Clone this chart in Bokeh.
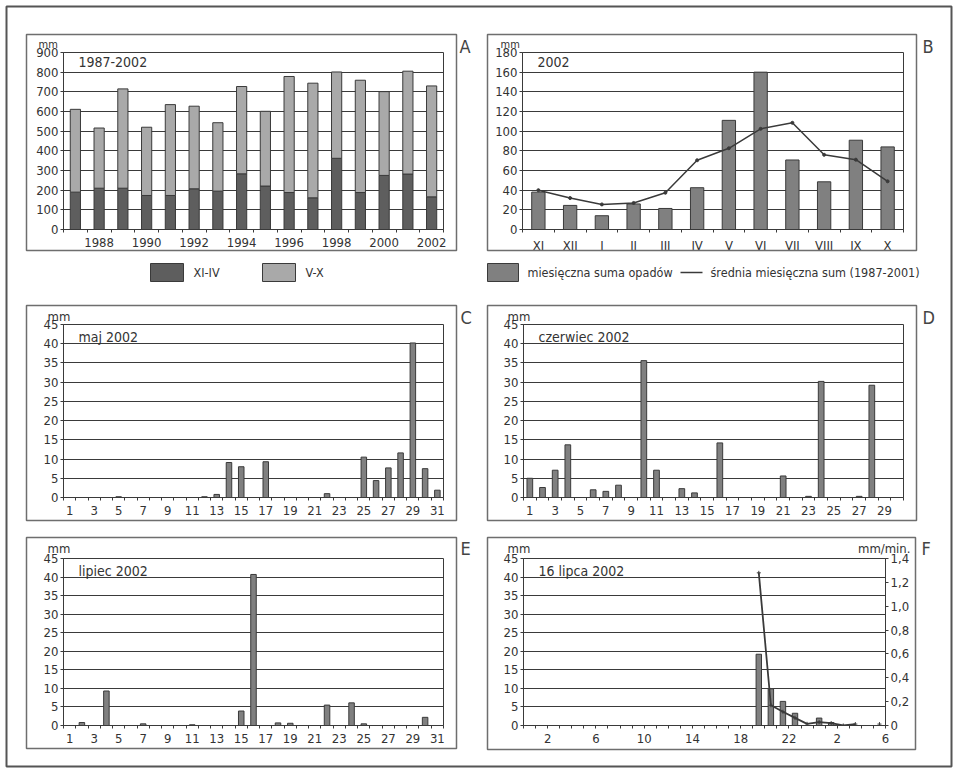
import numpy as np
from bokeh.plotting import figure
from bokeh.models import (Range1d, LinearAxis, FixedTicker, CustomJSTickFormatter,
                          Label, Spacer, ColumnDataSource, GridBox)
from bokeh.layouts import row, column
from bokeh.core.properties import value
from bokeh.embed import file_html
from bokeh.resources import INLINE

# ---------------- data ----------------
# A: seasonal precipitation totals 1987-2002 (mm)
years = list(range(1987, 2003))
winter_xi_iv = [190, 210, 210, 173, 173, 207, 195, 283, 221, 188, 161, 362, 188, 275, 282, 166]
summer_v_x = [421, 306, 505, 347, 462, 420, 348, 444, 380, 590, 583, 439, 571, 426, 523, 564]

# B: monthly sums for hydrological year 2002 and the 1987-2001 monthly mean (mm)
months = ["XI", "XII", "I", "II", "III", "IV", "V", "VI", "VII", "VIII", "IX", "X"]
monthly_2002 = [38, 24.5, 14, 26, 21.4, 42.5, 111, 160, 70.7, 48.5, 90.8, 84]
monthly_mean = [40, 32, 25.5, 27, 37.4, 70.4, 82.6, 102.4, 108.5, 76, 71, 49]

# C: daily precipitation, May 2002 (mm)
may_days = list(range(1, 32))
may_mm = [0, 0, 0, 0, 0.2, 0, 0, 0, 0, 0, 0, 0.2, 0.8, 9.1, 8.0, 0, 9.3, 0, 0, 0,
          0, 1.0, 0, 0, 10.5, 4.4, 7.7, 11.6, 40.2, 7.5, 1.9]

# D: daily precipitation, June 2002 (mm)
june_days = list(range(1, 31))
june_mm = [5.0, 2.6, 7.1, 13.7, 0, 2.0, 1.6, 3.2, 0, 35.6, 7.1, 0, 2.3, 1.2, 0, 14.2,
           0, 0, 0, 0, 5.6, 0, 0.3, 30.2, 0, 0, 0.3, 29.2, 0, 0]

# E: daily precipitation, July 2002 (mm)
july_days = list(range(1, 32))
july_mm = [0, 0.8, 0, 9.3, 0, 0, 0.45, 0, 0, 0, 0.2, 0, 0, 0, 3.9, 40.7, 0, 0.7, 0.6, 0,
           0, 5.5, 0, 6.1, 0.45, 0, 0, 0, 0, 2.2, 0]

# F: hourly totals (mm) and intensity (mm/min) on 16 July 2002, hours counted from 0:00
storm_hours = [19, 20, 21, 22, 23, 24, 25]
storm_mm = [19.2, 9.9, 6.5, 3.3, 0.0, 2.0, 0.8]
rate_hours = [19.5, 20.5, 21.5, 22.5, 23.5, 24.5, 25.5, 26.5, 27.5, 28.5, 29.5]
rate_mm_min = [1.28, 0.17, 0.115, 0.064, 0.014, 0.028, 0.02, 0.0, 0.012, np.nan, 0.012]

# legend texts
legend_a = ["XI-IV", "V-X"]
legend_b = ["miesięczna suma opadów", "średnia miesięczna sum (1987-2001)"]

# ---------------- styling ----------------
FONT = "DejaVu Sans Condensed, Liberation Sans Narrow, Roboto, sans-serif"
INK = "#3a3a3a"
TEXT = "#333333"
BOX = "#6e6e6e"
DARK = "#5e5e5e"
LIGHT = "#a9a9a9"
MID = "#808080"
TICK_SIZE = "13px"


def make_panel(fw, fh, right_border, x0, x1, y_max, y_step, x_ticks, x_minor):
    p = figure(frame_width=fw, frame_height=fh, output_backend="svg", toolbar_location=None,
               x_range=Range1d(x0, x1), y_range=Range1d(0, y_max),
               min_border_left=40, min_border_right=right_border,
               min_border_top=10, min_border_bottom=30,
               background_fill_color="white", border_fill_color=None,
               outline_line_color=INK, outline_line_width=1)
    p.xgrid.visible = False
    p.ygrid.grid_line_color = INK
    p.ygrid.grid_line_width = 1
    p.yaxis.ticker = FixedTicker(ticks=list(np.arange(0, y_max + y_step / 2, y_step)))
    p.yaxis.major_tick_out = 3
    p.yaxis.major_tick_in = 0
    p.yaxis.minor_tick_line_color = None
    p.yaxis.major_tick_line_color = INK
    p.yaxis.major_label_standoff = 2
    p.xaxis.ticker = FixedTicker(ticks=x_ticks, minor_ticks=x_minor)
    p.xaxis.major_tick_line_color = None
    p.xaxis.major_tick_out = 0
    p.xaxis.major_tick_in = 0
    p.xaxis.minor_tick_out = 3
    p.xaxis.minor_tick_in = 0
    p.xaxis.minor_tick_line_color = INK
    p.xaxis.major_label_standoff = 5
    for ax in p.axis:
        ax.axis_line_color = INK
        ax.major_label_text_font = FONT
        ax.major_label_text_font_size = TICK_SIZE
        ax.major_label_text_color = TEXT
    return p


def add_title(p, title):
    p.add_layout(Label(x=p.x_range.start, y=p.y_range.end, x_offset=15, y_offset=-4,
                       text=title, text_baseline="top", text_align="left",
                       text_font=FONT, text_font_size="14px", text_color=TEXT))


def day_panel(fw, fh, days, values, title):
    n = len(days)
    p = make_panel(fw, fh, 15, 0.5, n + 0.5, 45, 5,
                   [d for d in days if d % 2 == 1], [d + 0.5 for d in range(n + 1)])
    p.vbar(x=days, top=values, width=0.45, fill_color=MID, line_color=INK, line_width=1)
    add_title(p, title)
    return p


# ---------------- A ----------------
pa = make_panel(380, 177, 15, 1986.5, 2002.5, 900, 100,
                [y for y in years if y % 2 == 0], [y - 0.5 for y in years] + [years[-1] + 0.5])
src_a = ColumnDataSource(dict(year=years, xi_iv=winter_xi_iv, v_x=summer_v_x))
pa.vbar_stack(["xi_iv", "v_x"], x="year", source=src_a, width=0.43,
              fill_color=[DARK, LIGHT], line_color=INK, line_width=1)
add_title(pa, "1987-2002")

# ---------------- B ----------------
idx = list(range(len(months)))
pb = make_panel(381, 177, 15, -0.5, len(months) - 0.5, 180, 20,
                idx, [i - 0.5 for i in idx] + [len(months) - 0.5])
pb.xaxis.major_label_overrides = {i: m for i, m in enumerate(months)}
pb.vbar(x=idx, top=monthly_2002, width=0.42, fill_color=MID, line_color=INK, line_width=1)
pb.line(idx, monthly_mean, line_color=INK, line_width=1.5)
pb.scatter(idx, monthly_mean, marker="circle", size=3, color=INK)
add_title(pb, "2002")

# ---------------- C, D, E ----------------
pc = day_panel(380, 173, may_days, may_mm, "maj 2002")
pd_ = day_panel(380, 173, june_days, june_mm, "czerwiec 2002")
pe = day_panel(380, 167, july_days, july_mm, "lipiec 2002")

# ---------------- F ----------------
pf = make_panel(362, 167, 40, 0, 30, 45, 5, list(range(2, 31, 4)), list(range(0, 31)))
pf.xaxis.formatter = CustomJSTickFormatter(code="return String(tick % 24);")
pf.vbar(x=[h + 0.5 for h in storm_hours], top=storm_mm, width=0.45,
        fill_color=MID, line_color=INK, line_width=1)
pf.extra_y_ranges = {"rate": Range1d(0, 1.4)}
rax = LinearAxis(y_range_name="rate",
                 ticker=FixedTicker(ticks=[0, 0.2, 0.4, 0.6, 0.8, 1.0, 1.2, 1.4]),
                 formatter=CustomJSTickFormatter(
                     code="return tick == 0 ? '0' : tick.toFixed(1).replace('.', ',');"))
rax.axis_line_color = INK
rax.major_tick_line_color = INK
rax.major_tick_out = 3
rax.major_tick_in = 0
rax.minor_tick_line_color = None
rax.major_label_standoff = 2
rax.major_label_text_font = FONT
rax.major_label_text_font_size = TICK_SIZE
rax.major_label_text_color = TEXT
pf.add_layout(rax, "right")
rate_src = ColumnDataSource(dict(h=rate_hours, r=np.array(rate_mm_min, dtype=float)))
pf.line("h", "r", source=rate_src, y_range_name="rate", line_color=INK, line_width=1.8)
pf.scatter("h", "r", source=rate_src, y_range_name="rate", marker="cross", size=4,
           color=INK)
add_title(pf, "16 lipca 2002")

# ---------------- page overlay: frames, panel letters, units, legends ----------------
ov = figure(width=956, height=774, output_backend="svg", toolbar_location=None,
            x_range=Range1d(0, 956), y_range=Range1d(774, 0),
            x_axis_type=None, y_axis_type=None, min_border=0,
            outline_line_color=None, border_fill_color=None, background_fill_color=None)
# outer frame and panel boxes (page pixels)
ov.quad(left=[6], right=[951], top=[6], bottom=[766], fill_color=None,
        line_color="#555555", line_width=2)
ov.quad(left=[26, 487, 26, 487, 26, 487], right=[456, 916, 456, 916, 456, 915],
        top=[34, 34, 305, 305, 537, 537], bottom=[250, 250, 520, 520, 748, 749],
        fill_color=None, line_color=BOX, line_width=1.5)
ov.text(x=[459, 922, 460, 922, 460, 921], y=[35, 35, 306, 306, 537, 537],
        text=["A", "B", "C", "D", "E", "F"], text_baseline="top", text_align="left",
        text_font=value(FONT), text_font_size="18px", text_color="#444444")
ov.text(x=[38, 500], y=[44, 44], text=["mm", "mm"], text_baseline="alphabetic",
        text_font=value(FONT), text_font_size="11px", text_color=TEXT)
ov.text(x=[47, 507, 47, 507], y=[316, 316, 548, 548], text=["mm"] * 4,
        text_baseline="alphabetic", text_font=value(FONT), text_font_size="13px",
        text_color=TEXT)
ov.text(x=[910], y=[548], text=["mm/min."], text_baseline="alphabetic", text_align="right",
        text_font=value(FONT), text_font_size="13px", text_color=TEXT)
# legend keys
ov.quad(left=[150, 262, 487], right=[183, 295, 518], top=[263, 263, 263],
        bottom=[281, 281, 281], fill_color=[DARK, LIGHT, MID], line_color=INK, line_width=1)
ov.segment(x0=[680], y0=[272], x1=[702], y1=[272], line_color=INK, line_width=1.5)
ov.text(x=[193, 305, 527, 710], y=[272] * 4, text=legend_a + legend_b,
        text_baseline="middle", text_align="left", text_font=value(FONT),
        text_font_size="12.5px", text_color=TEXT)

# ---------------- layout ----------------
row1 = row(Spacer(width=23, height=10), pa, Spacer(width=24, height=10), pb)
row2 = row(Spacer(width=23, height=10), pc, Spacer(width=25, height=10), pd_)
row3 = row(Spacer(width=23, height=10), pe, Spacer(width=25, height=10), pf)
main = column(Spacer(width=956, height=42), row1, Spacer(width=956, height=55), row2,
              Spacer(width=956, height=21), row3, width=956, height=774)

root = GridBox(children=[(main, 0, 0), (ov, 0, 0)])

open("out.html", "w").write(file_html(root, INLINE))
